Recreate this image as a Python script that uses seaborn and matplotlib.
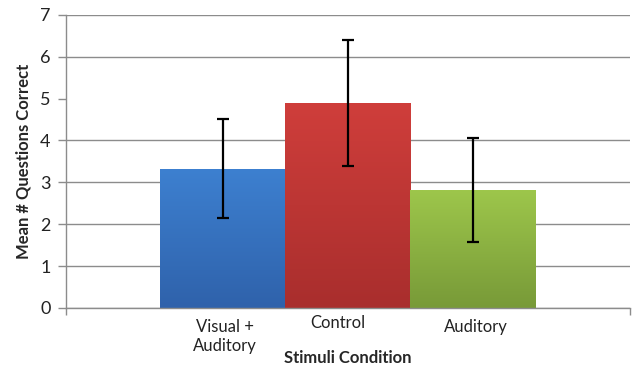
import numpy as np
import pandas as pd
import matplotlib
matplotlib.use("Agg")
import matplotlib.pyplot as plt
import seaborn as sns
from matplotlib.colors import LinearSegmentedColormap

# values
conditions = ["Visual +\nAuditory", "Control", "Auditory"]
mean_correct = [3.33, 4.90, 2.81]
error_half = [1.18, 1.51, 1.24]
top_colors = ["#3d80d0", "#cf3e3b", "#9dc64b"]
bottom_colors = ["#2f62ab", "#a92e2d", "#789a38"]
grid_levels = [0, 1, 2, 3, 4, 6, 7]   # the 5 line is missing in the scan

sns.set_style("white")
plt.rcParams["font.family"] = ["Lato", "DejaVu Sans"]

df = pd.DataFrame({"Condition": conditions, "Mean": mean_correct})

fig = plt.figure(figsize=(6.34, 3.71), dpi=100)
ax = fig.add_axes([0.104, 0.170, 0.890, 0.790])

for g in grid_levels:
    ax.axhline(g, color="#8c8c8c", linewidth=1.0, zorder=0)

sns.barplot(data=df, x="Condition", y="Mean", hue="Condition",
            palette=top_colors, width=1.0, errorbar=None, legend=False,
            linewidth=0, ax=ax, zorder=2)

# Excel-style vertical gradient on each bar
for patch, c_top, c_bot in zip(ax.patches, top_colors, bottom_colors):
    bb = patch.get_bbox()
    cmap = LinearSegmentedColormap.from_list("g", [c_bot, c_top])
    grad = np.linspace(0, 1, 100).reshape(-1, 1)
    im = ax.imshow(grad, cmap=cmap, origin="lower", aspect="auto",
                   extent=[bb.x0, bb.x1, bb.y0, bb.y1], zorder=2.5)
    im.set_clip_path(patch)

ax.errorbar(x=range(len(conditions)), y=mean_correct, yerr=error_half,
            fmt="none", ecolor="black", elinewidth=1.6, capsize=4,
            capthick=1.6, zorder=4)

ax.set_xlim(-1.252, 3.26)
ax.set_ylim(0, 7)
ax.set_yticks(range(8))
ax.tick_params(axis="y", labelsize=13, length=6, width=1, color="#8c8c8c",
               left=True, pad=5, labelcolor="#222222")
ax.set_xticks([-1.252, 3.26])
ax.set_xticklabels(["", ""])
ax.tick_params(axis="x", length=5, width=1, color="#8c8c8c", bottom=True)

for side in ["top", "right"]:
    ax.spines[side].set_visible(False)
for side in ["left", "bottom"]:
    ax.spines[side].set_color("#8c8c8c")
    ax.spines[side].set_linewidth(1.0)

# category labels sit at slightly different spots in the original
label_offsets = [(0.02, -0.038), (-0.08, -0.024), (0.03, -0.038)]
for i, (name, (dx, dy)) in enumerate(zip(conditions, label_offsets)):
    ax.text(i + dx, dy, name, transform=ax.get_xaxis_transform(),
            ha="center", va="top", fontsize=12, color="#222222",
            linespacing=1.25)

ax.set_xlabel("")
ax.set_ylabel("Mean # Questions Correct", fontsize=12, fontweight="bold",
              labelpad=6)
fig.text(0.549, 0.035, "Stimuli Condition", ha="center", va="center",
         fontsize=12, fontweight="bold")

fig.savefig("out.png", dpi=100)
